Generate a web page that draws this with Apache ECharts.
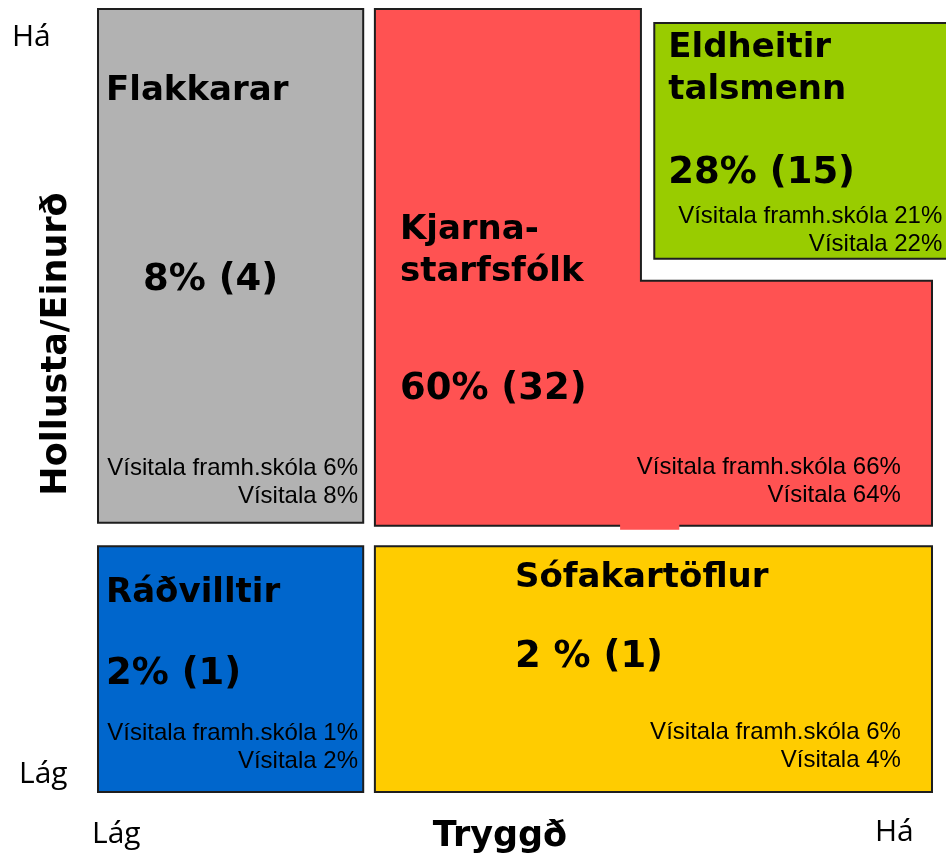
<!DOCTYPE html>
<html style="height: 100%">
   <head>
       <meta charset="utf-8">
   </head>
   <body style="height: 100%; margin: 0">
       <div id="container" style="height: 100%"></div>
       <script type="text/javascript" src="https://cdn.jsdelivr.net/npm/echarts@6/dist/echarts.min.js"></script>
       <script type="text/javascript">
// groups in the loyalty (Hollusta/Einurð) x security (Tryggð) map
var groups = ['Flakkarar', 'Kjarna-\nstarfsfólk', 'Eldheitir\ntalsmenn', 'Ráðvilltir', 'Sófakartöflur'];
var shares = ['8% (4)', '60% (32)', '28% (15)', '2% (1)', '2 % (1)'];
var schoolIndex = [6, 66, 21, 1, 6];
var generalIndex = [8, 64, 22, 2, 4];
var colors = ['#B2B2B2', '#FF5252', '#99CC00', '#0066CC', '#FFCC00'];

// outline of each group's area, in axis units (0-100 on both axes)
var shapes = [
    [[0, 100], [31.8, 100], [31.8, 34.4], [0, 34.4]],
    [[33.2, 100], [65.1, 100], [65.1, 65.3], [100, 65.3], [100, 34.0], [33.2, 34.0]],
    [[66.7, 98.2], [104, 98.2], [104, 68.1], [66.7, 68.1]],
    [[0, 31.4], [31.8, 31.4], [31.8, 0], [0, 0]],
    [[33.2, 31.4], [100, 31.4], [100, 0], [33.2, 0]]
];
// little notch under the red area
var notch = [[62.6, 34.3], [69.7, 33.5]];

// label offsets in px from the top-left corner of each area
var titleOff = [[8, 82], [25, 221], [14, 25], [8, 47], [140, 32]];
var shareOff = [[45, 271], [25, 380], [14, 150], [8, 128], [140, 111]];
var indexOff = [[260, 459], [526, 458], [288, 193], [260, 187], [526, 186]];

var dom = document.getElementById("container");
var myChart = echarts.init(dom);
var option = null;

function renderItem(params, api) {
    var i = api.value(0);
    var pts = shapes[i].map(function (p) { return api.coord(p); });
    var left = Math.min.apply(null, pts.map(function (p) { return p[0]; }));
    var top = Math.min.apply(null, pts.map(function (p) { return p[1]; }));
    var children = [{
        type: 'polygon',
        shape: {points: pts},
        style: {fill: colors[i], stroke: '#1e1e1e', lineWidth: 2}
    }];
    if (i === 1) {
        var a = api.coord(notch[0]), b = api.coord(notch[1]);
        children.push({
            type: 'rect',
            shape: {x: a[0], y: a[1], width: b[0] - a[0], height: b[1] - a[1]},
            style: {fill: colors[i]}
        });
    }
    var tLines = groups[i].split('\n');
    tLines.forEach(function (t, k) {
        children.push({
            type: 'text',
            style: {
                text: t, x: left + titleOff[i][0], y: top + titleOff[i][1] + k * 42,
                fill: '#000', font: 'bold 34px "DejaVu Sans"',
                textAlign: 'left', textVerticalAlign: 'middle'
            }
        });
    });
    children.push({
        type: 'text',
        style: {
            text: shares[i], x: left + shareOff[i][0], y: top + shareOff[i][1],
            fill: '#000', font: 'bold 37px "DejaVu Sans"',
            textAlign: 'left', textVerticalAlign: 'middle'
        }
    });
    var idx = ['Vísitala framh.skóla ' + schoolIndex[i] + '%', 'Vísitala ' + generalIndex[i] + '%'];
    idx.forEach(function (t, k) {
        children.push({
            type: 'text',
            style: {
                text: t, x: left + indexOff[i][0], y: top + indexOff[i][1] + k * 28,
                fill: '#000', font: '24px "Liberation Sans"',
                textAlign: 'right', textVerticalAlign: 'middle'
            }
        });
    });
    return {type: 'group', children: children};
}

option = {
    animation: false,
    backgroundColor: '#fff',
    grid: {left: 98, right: 14, top: 9, bottom: 64},
    xAxis: {type: 'value', min: 0, max: 100, show: false},
    yAxis: {type: 'value', min: 0, max: 100, show: false},
    graphic: [
        {type: 'text', left: 12, top: 22, style: {text: 'Há', font: '30px "Open Sans"', fill: '#000'}},
        {type: 'text', left: 19, top: 759, style: {text: 'Lág', font: '30px "Open Sans"', fill: '#000'}},
        {type: 'text', left: 92, top: 819, style: {text: 'Lág', font: '30px "Open Sans"', fill: '#000'}},
        {type: 'text', left: 875, top: 817, style: {text: 'Há', font: '30px "Open Sans"', fill: '#000'}},
        {type: 'text', x: 500, y: 837, style: {text: 'Tryggð', font: 'bold 35px "DejaVu Sans"', fill: '#000', textAlign: 'center', textVerticalAlign: 'middle'}},
        {type: 'text', x: 57, y: 344, rotation: Math.PI / 2, style: {text: 'Hollusta/Einurð', font: 'bold 35px "DejaVu Sans"', fill: '#000', textAlign: 'center', textVerticalAlign: 'middle'}}
    ],
    series: [{
        type: 'custom',
        renderItem: renderItem,
        clip: false,
        data: groups.map(function (g, i) { return [i]; })
    }]
};
myChart.setOption(option);
       </script>
   </body>
</html>
